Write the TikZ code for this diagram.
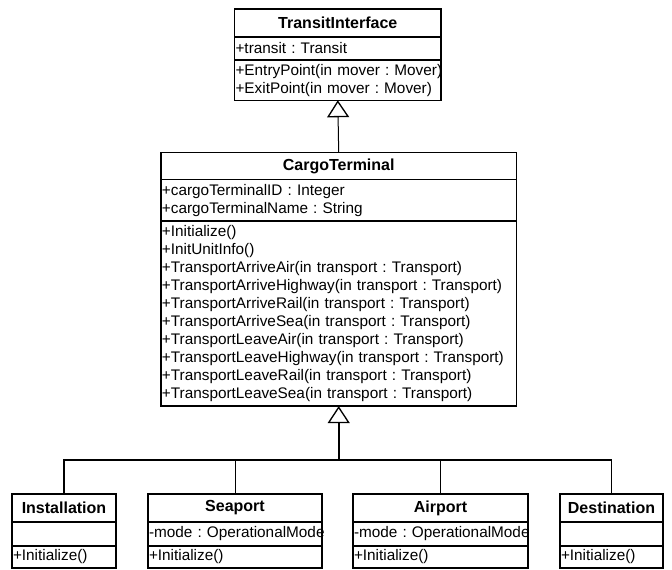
\documentclass[tikz,border=0pt]{standalone}
\usepackage{fontspec}
\setmainfont{Liberation Sans}
\usetikzlibrary{arrows.meta,positioning}
\frenchspacing
\hyphenpenalty=10000
\exhyphenpenalty=10000

\begin{document}
\begin{tikzpicture}[
    x=0.75pt, y=-0.75pt,
    font=\fontsize{11.5}{13.5}\selectfont,
    classhead/.style={draw,line width=1pt,outer sep=0pt,inner sep=0pt,font=\fontsize{12}{14}\selectfont\bfseries,minimum width=#1,minimum height=21pt,anchor=north},
    compart/.style n args={2}{draw,line width=1pt,outer sep=0pt,inner xsep=0.75pt,inner ysep=0pt,text width=#1,minimum height=#2,align=left},
    gen/.style={-{Triangle[open,length=12.75pt,width=16.5pt,line width=1pt]}},
    link/.style={line width=0.75pt}
  ]
    \useasboundingbox (0,0) rectangle (672,570);

    % interface
    \node[classhead=154.9pt] (ti) at (337.8,9) {TransitInterface};
    \node[compart={153.4pt}{17.25pt},below=0pt of ti] (ti-attr) {+transit : Transit};
    \node[compart={153.4pt}{30.2pt},below=0pt of ti-attr] (ti-ops) {+EntryPoint(in~mover~:~Mover)\\+ExitPoint(in~mover~:~Mover)};

    % terminal
    \node[classhead=266.6pt,minimum height=20pt] (ct) at (338.7,152.7) {CargoTerminal};
    \node[compart={265.1pt}{31.3pt},below=0pt of ct] (ct-attr) {+cargoTerminalID : Integer\\+cargoTerminalName : String};
    \node[compart={265.1pt}{138.75pt},below=0pt of ct-attr] (ct-ops) {
      +Initialize()\\
      +InitUnitInfo()\\
      +TransportArriveAir(in transport : Transport)\\
      +TransportArriveHighway(in transport : Transport)\\
      +TransportArriveRail(in transport : Transport)\\
      +TransportArriveSea(in transport : Transport)\\
      +TransportLeaveAir(in transport : Transport)\\
      +TransportLeaveHighway(in transport : Transport)\\
      +TransportLeaveRail(in transport : Transport)\\
      +TransportLeaveSea(in transport : Transport)};

    % subclasses
    \node[classhead=78pt] (inst) at (64,494) {Installation};
    \node[compart={76.5pt}{18pt},below=0pt of inst] (inst-attr) {};
    \node[compart={76.5pt}{16.5pt},below=0pt of inst-attr] (inst-ops) {+Initialize()};

    \node[classhead=130.5pt] (sea) at (235,494) {Seaport};
    \node[compart={129pt}{18pt},below=0pt of sea] (sea-attr) {-mode~:~OperationalMode};
    \node[compart={129pt}{16.5pt},below=0pt of sea-attr] (sea-ops) {+Initialize()};

    \node[classhead=131.25pt] (air) at (440.5,494) {Airport};
    \node[compart={129.75pt}{18pt},below=0pt of air] (air-attr) {-mode~:~OperationalMode};
    \node[compart={129.75pt}{16.5pt},below=0pt of air-attr] (air-ops) {+Initialize()};

    \node[classhead=77.25pt] (dest) at (611.5,494) {Destination};
    \node[compart={75.75pt}{18pt},below=0pt of dest] (dest-attr) {};
    \node[compart={75.75pt}{16.5pt},below=0pt of dest-attr] (dest-ops) {+Initialize()};

    % generalizations
    \draw[gen,link] (ct.north) -- (ti-ops.south);
    \coordinate[below=40.5pt of ct-ops.south] (bus);
    \draw[gen,line width=1.5pt] (bus) -- (ct-ops.south);
    \draw[line width=1pt] (inst.north) |- (bus) -| (dest.north);
    \draw[link] (sea.north) -- (sea.north |- bus);
    \draw[link] (air.north) -- (air.north |- bus);
  \end{tikzpicture}
\end{document}
